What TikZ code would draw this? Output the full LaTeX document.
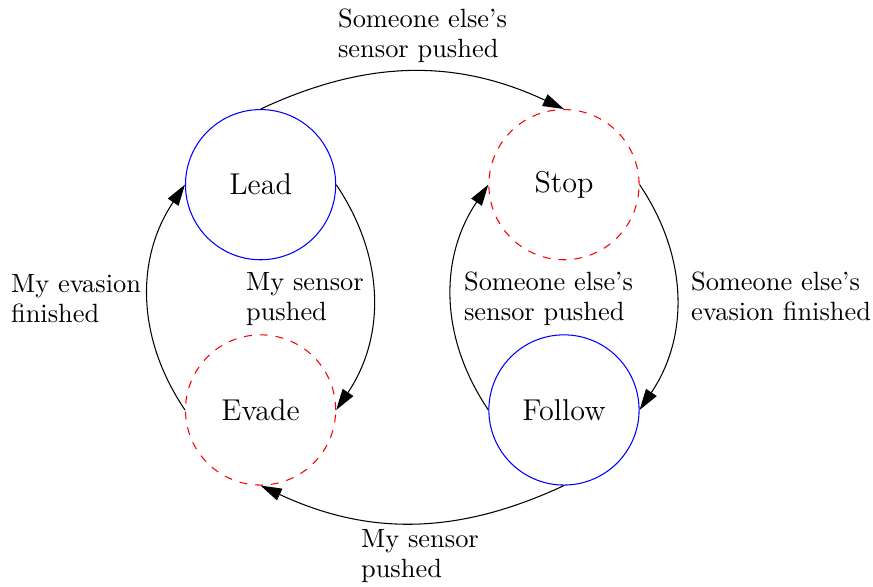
\documentclass[tikz,border=0pt]{standalone}
\usepackage{tikz}
\usepackage{xcolor}
\usetikzlibrary{arrows.meta}

\tikzset{
  state/.style={circle, minimum size=2cm, inner sep=0pt, font=\fontsize{11.4}{13.7}\selectfont},
  leader/.style={state, draw=blue},
  waiter/.style={state, draw=red, dashed},
  trans/.style={-{Triangle[length=8pt,width=4.8pt]}},
  lbl/.style={anchor=north west, inner sep=0pt, align=left, font=\fontsize{10}{11.4}\selectfont}
}

\begin{document}
\begin{tikzpicture}
\useasboundingbox (-3.47,-2.357) rectangle (8.155,5.459);
%
\node[leader] (lead) at (0,3) {Lead};
\node[waiter] (stop) at (4.04,3) {Stop};
\node[waiter] (evade) at (0,0) {Evade};
\node[leader] (follow) at (4.04,0) {Follow};
%
\node[lbl] (l1) at (1.025,5.344) {Someone else's\\sensor pushed};
\node[lbl] (l2) at (-0.20,1.838) {My sensor\\pushed};
\node[lbl] (l3) at (-3.329,1.811) {My evasion\\finished};
\node[lbl] (l4) at (2.703,1.842) {Someone else's\\sensor pushed};
\node[lbl] (l5) at (5.726,1.842) {Someone else's\\evasion finished};
\node[lbl] (l6) at (1.332,-1.585) {My sensor\\pushed};

\draw[trans] (lead.north) to[bend left=25] (stop.north);
\draw[trans] (lead.east) to[bend left=34] (evade.east);
\draw[trans] (stop.east) to[bend left=34] (follow.east);
\draw[trans] (follow.west) to[bend left=34] (stop.west);
\draw[trans] (evade.west) to[bend left=34] (lead.west);
\draw[trans] (follow.south) to[bend left=25] (evade.south);
\end{tikzpicture}
\end{document}
